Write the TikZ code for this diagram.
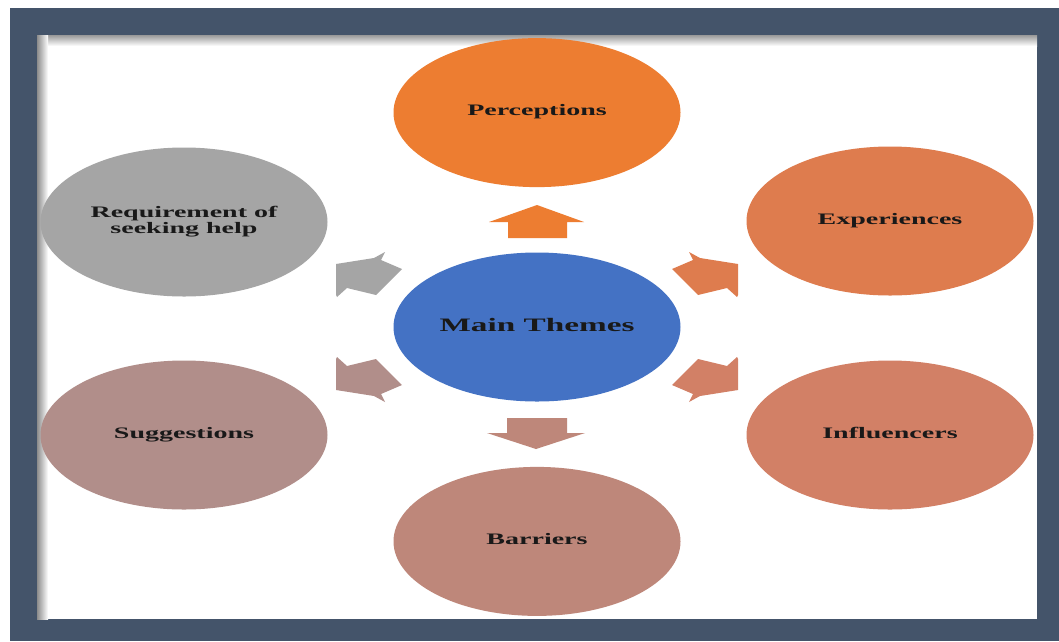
\documentclass[tikz,border=0pt]{standalone}
\usepackage{fontspec}
\setmainfont{Liberation Serif}
\usetikzlibrary{shapes.geometric, positioning}
\definecolor{themeFrame}{RGB}{68,84,106}
\definecolor{themeBlue}{RGB}{68,114,196}
\definecolor{themeOrange}{RGB}{237,125,49}
\definecolor{themeCoral}{RGB}{222,124,78}
\definecolor{themeSalmon}{RGB}{210,128,102}
\definecolor{themeClay}{RGB}{190,135,122}
\definecolor{themeMauve}{RGB}{177,142,138}
\definecolor{themeGrey}{RGB}{165,165,165}
\newcommand{\widetext}[1]{\scalebox{1.75}[1]{\begin{tabular}{@{}c@{}}#1\end{tabular}}}

\begin{document}
\begin{tikzpicture}[x=1pt, y=-1pt,
      theme/.style={ellipse, minimum width=287pt, minimum height=149pt, inner sep=0pt,
      font=\fontsize{16}{15}\selectfont\bfseries, text=black!90},
      core/.style={theme, font=\fontsize{19}{20}\selectfont\bfseries},
      spoke/.style={draw=none}
    ]
    \useasboundingbox (0,0) rectangle (1059,641);
    % frame and inner sheet
    \fill[themeFrame] (10,8) rectangle (1059,641);
    \fill[white] (37,35) rectangle (1037,619);
    \shade[top color=black!40, bottom color=white] (37,35) rectangle (1037,46);
    \shade[left color=black!45, right color=white] (37,35) rectangle (48,619);

    \node[core, fill=themeBlue] (main) at (537,327) {\widetext{Main Themes}};
    \node[theme, fill=themeOrange, above=65pt of main] (perceptions) {\widetext{Perceptions}};
    \node[theme, fill=themeCoral] (experiences) at (890,221) {\widetext{Experiences}};
    \node[theme, fill=themeSalmon] (influencers) at (890,435) {\widetext{Influencers}};
    \node[theme, fill=themeClay, below=65pt of main] (barriers) {\widetext{Barriers}};
    \node[theme, fill=themeMauve] (suggestions) at (184,435) {\widetext{Suggestions}};
    \node[theme, fill=themeGrey] (requirement) at (184,222) {\widetext{Requirement of\\seeking help}};

    % block arrows
    \fill[spoke, themeOrange] (537,205) -- (584,222) -- (567,222) -- (567,238) -- (508,238) -- (508,222) -- (489,222) -- cycle;
    \fill[spoke, themeCoral] (672,269) -- (693,260) -- (689,252) -- (700,258) -- (738,264) -- (738,295) -- (737,297) -- (727,288) -- (698,295) -- cycle;
    \fill[spoke, themeSalmon] (672,385) -- (693,394) -- (689,402) -- (700,396) -- (738,390) -- (738,359) -- (737,357) -- (727,366) -- (698,359) -- cycle;
    \fill[spoke, themeClay] (536,449) -- (585,433) -- (567,433) -- (567,418) -- (507,418) -- (507,433) -- (487,433) -- cycle;
    \fill[spoke, themeMauve] (402,385) -- (381,394) -- (385,402) -- (374,396) -- (336,390) -- (336,359) -- (337,357) -- (347,366) -- (376,359) -- cycle;
    \fill[spoke, themeGrey] (402,269) -- (381,260) -- (385,252) -- (374,258) -- (336,264) -- (336,295) -- (337,297) -- (347,288) -- (376,295) -- cycle;
  \end{tikzpicture}
\end{document}
